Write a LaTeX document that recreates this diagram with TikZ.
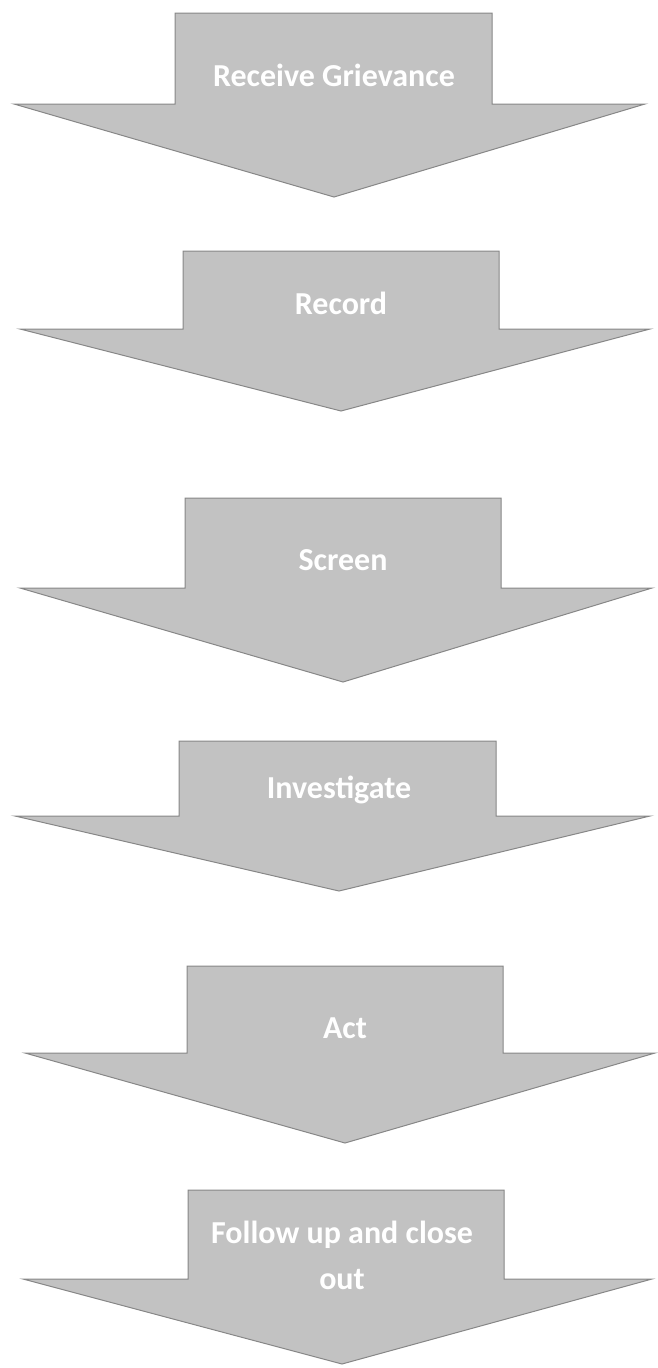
\documentclass[tikz,border=0pt]{standalone}
\usepackage{fontspec}
\setmainfont{Carlito}
\usepackage{xcolor}
\definecolor{arrowfill}{RGB}{194,194,194}
\definecolor{arrowedge}{RGB}{135,135,135}
\usepackage{tikz}

\begin{document}
\begin{tikzpicture}[
  x=1pt, y=-1pt,
  stepshape/.style={draw=arrowedge, fill=arrowfill, line width=1pt, line join=miter},
  steptext/.style={text=white, font=\fontsize{32}{46}\selectfont\bfseries, align=center}
]
\useasboundingbox (0,0) rectangle (657,1368);

%% step 1
\draw[stepshape] (175,13) -- (492,13) -- (492,104) -- (645,104) -- (334,197)
                 -- (14,104) -- (175,104) -- cycle;
\node[steptext] (receive) at (334,75) {Receive Grievance};

%% step 2
\draw[stepshape] (183,251) -- (499,251) -- (499,329) -- (650,329) -- (341,411)
                 -- (20,329) -- (183,329) -- cycle;
\node[steptext] (record) at (341,303) {Record};

%% step 3
\draw[stepshape] (185,498) -- (501,498) -- (501,588) -- (652,588) -- (343,682)
                 -- (20,588) -- (185,588) -- cycle;
\node[steptext] (screen) at (343,560) {Screen};

%% step 4
\draw[stepshape] (179,741) -- (496,741) -- (496,816) -- (650,816) -- (339,891)
                 -- (15,816) -- (179,816) -- cycle;
\node[steptext] (investigate) at (339,790) {Investigate};

%% step 5
\draw[stepshape] (187,966) -- (503,966) -- (503,1053) -- (655,1053) -- (345,1143)
                 -- (25,1053) -- (187,1053) -- cycle;
\node[steptext] (act) at (345,1028) {Act};

%% step 6
\draw[stepshape] (188,1190) -- (504,1190) -- (504,1279) -- (652,1279) -- (342,1364)
                 -- (23,1279) -- (188,1279) -- cycle;
\node[steptext] (followup) at (342,1255) {Follow up and close\\out};
\end{tikzpicture}
\end{document}
